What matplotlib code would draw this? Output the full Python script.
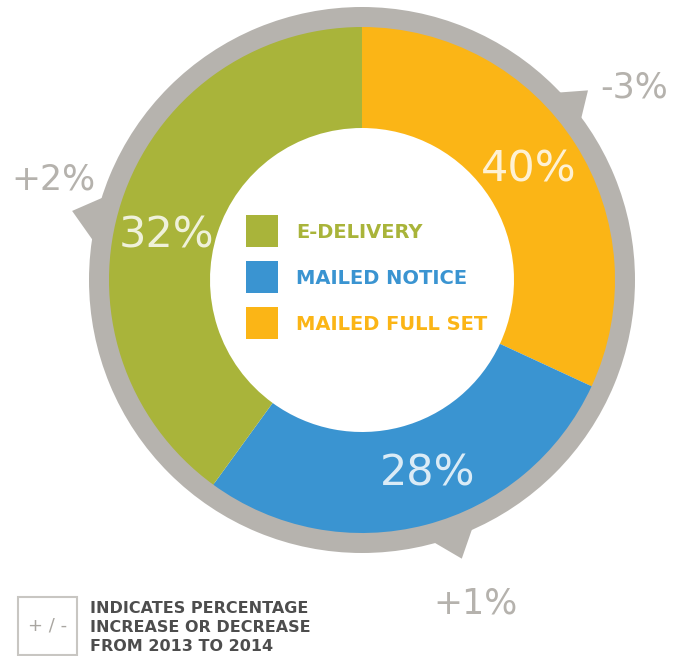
import matplotlib.pyplot as plt
from matplotlib.patches import Wedge, Polygon, Rectangle
import numpy as np

# wedge sizes as drawn in the graphic (clockwise from 12 o'clock)
arc_shares = [31.9, 28.1, 40.0]
segment_names = ["MAILED FULL SET", "MAILED NOTICE", "E-DELIVERY"]
pct_labels = ["40%", "28%", "32%"]
change_labels = ["-3%", "+1%", "+2%"]

legend_names = ["E-DELIVERY", "MAILED NOTICE", "MAILED FULL SET"]
note_lines = ["INDICATES PERCENTAGE", "INCREASE OR DECREASE", "FROM 2013 TO 2014"]

colors = {"E-DELIVERY": "#a9b43a", "MAILED NOTICE": "#3a94d1", "MAILED FULL SET": "#fbb516"}
gray = "#b6b3ae"

W, H = 685, 656
cx, cy = 362, 376
r_out, r_width = 253, 101
r_gray = 273

fig = plt.figure(figsize=(W / 100, H / 100), dpi=100)
ax = fig.add_axes([0, 0, 1, 1])

# gray ring behind
ax.add_patch(Wedge((cx, cy), r_gray, 0, 360, width=r_gray - r_out + 2, color=gray, lw=0))

# little pointer tails on the gray ring: (angle a, angle b, tip angle, tip radius)
tails = [(44.1, 35.8, 40.0, 295), (-75.3, -65.5, -70.3, 296), (161.8, 172.3, 166.6, 298)]
for a1, a2, at, rt in tails:
    pts = []
    for ang, rr in [(a1, r_gray - 4), (at, rt), (a2, r_gray - 4)]:
        t = np.radians(ang)
        pts.append((cx + rr * np.cos(t), cy + rr * np.sin(t)))
    ax.add_patch(Polygon(pts, closed=True, color=gray, lw=0))

ax.pie(arc_shares, colors=[colors[n] for n in segment_names], startangle=90,
       counterclock=False, radius=r_out, center=(cx, cy),
       wedgeprops=dict(width=r_width, linewidth=0))

# percentage labels inside the ring
pct_pos = [(529, 474), (428, 171), (167, 409)]
for (x, y), lab in zip(pct_pos, pct_labels):
    ax.text(x, y, lab, fontsize=31, color="white", alpha=0.82, ha="center",
            va="baseline", fontfamily="DejaVu Sans")

# change labels outside
change_pos = [(634, 559), (476, 42), (53, 466)]
for (x, y), lab in zip(change_pos, change_labels):
    ax.text(x, y, lab, fontsize=25, color="#b5b2ad", ha="center", va="baseline",
            fontfamily="DejaVu Sans")

# legend in the middle
leg_y = [409, 363, 317]
for y, name in zip(leg_y, legend_names):
    ax.add_patch(Rectangle((246, y), 32, 32, color=colors[name], lw=0))
    ax.text(296, y + 9, name, fontsize=14, color=colors[name], va="baseline",
            fontfamily="DejaVu Sans", fontweight="bold")

# note at the bottom
ax.add_patch(Rectangle((18, 1), 59, 58, fill=False, edgecolor="#c8c6c2", lw=1.5))
ax.text(47.5, 30, "+ / -", fontsize=13, color="#a9a6a1", ha="center", va="center",
        fontfamily="DejaVu Sans")
for i, line in enumerate(note_lines):
    ax.text(90, 43 - 19 * i, line, fontsize=11.5, color="#4d4d4d", va="baseline",
            fontfamily="DejaVu Sans", fontweight="bold")

ax.set_xlim(0, W)
ax.set_ylim(0, H)
ax.set_aspect("equal")
ax.axis("off")

fig.savefig("out.png", dpi=100)
